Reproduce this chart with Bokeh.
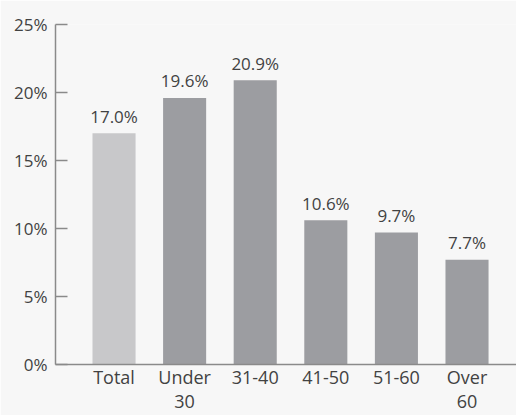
from bokeh.plotting import figure
from bokeh.models import ColumnDataSource, FixedTicker, Range1d
from bokeh.core.properties import value
from bokeh.embed import file_html
from bokeh.resources import INLINE

categories = ["Total", "Under\n30", "31-40", "41-50", "51-60", "Over\n60"]
values = [17.0, 19.6, 20.9, 10.6, 9.7, 7.7]
value_labels = ["17.0%", "19.6%", "20.9%", "10.6%", "9.7%", "7.7%"]
bar_colors = ["#c8c8ca", "#9c9da1", "#9c9da1", "#9c9da1", "#9c9da1", "#9c9da1"]
y_ticks = [0, 5, 10, 15, 20, 25]
y_tick_labels = ["0%", "5%", "10%", "15%", "20%", "25%"]

FONT = "Open Sans"
TEXT = "#424242"
BG = "#f7f7f7"
AXIS = "#8a8a8a"

xs = list(range(len(categories)))
src = ColumnDataSource(dict(x=xs, top=values, label=value_labels, color=bar_colors))

p = figure(width=516, height=415, output_backend="svg", toolbar_location=None,
           x_range=Range1d(-0.829, 5.701), y_range=Range1d(0, 25),
           min_border_left=55, min_border_right=0, min_border_top=24, min_border_bottom=0)

p.vbar(x="x", top="top", bottom=0, width=0.61, color="color", line_color=None, source=src)
p.text(x="x", y="top", text="label", source=src, text_align="center",
       text_baseline="alphabetic", y_offset=-17, text_font=value(FONT),
       text_font_size="17px", text_color=TEXT)

p.background_fill_color = BG
p.border_fill_color = BG
p.outline_line_color = None
p.grid.visible = False

p.yaxis.ticker = FixedTicker(ticks=y_ticks)
p.yaxis.major_label_overrides = {t: l for t, l in zip(y_ticks, y_tick_labels)}
p.yaxis.major_tick_in = 12
p.yaxis.major_tick_out = 0
p.yaxis.minor_tick_line_color = None
p.yaxis.axis_line_color = AXIS
p.yaxis.major_tick_line_color = AXIS
p.yaxis.axis_line_width = 1.5
p.yaxis.major_tick_line_width = 1.5
p.yaxis.major_label_standoff = 8
p.yaxis.major_label_text_font = FONT
p.yaxis.major_label_text_font_size = "17px"
p.yaxis.major_label_text_color = TEXT

p.xaxis.ticker = FixedTicker(ticks=xs)
p.xaxis.major_label_overrides = {i: c for i, c in zip(xs, categories)}
p.xaxis.major_tick_line_color = None
p.xaxis.major_tick_in = 0
p.xaxis.major_tick_out = 0
p.xaxis.minor_tick_line_color = None
p.xaxis.axis_line_color = AXIS
p.xaxis.axis_line_width = 1.5
p.xaxis.major_label_standoff = 0
p.xaxis.major_label_text_line_height = 1.0
p.xaxis.major_label_text_font = FONT
p.xaxis.major_label_text_font_size = "18px"
p.xaxis.major_label_text_color = TEXT

open("out.html", "w").write(file_html(p, INLINE))
